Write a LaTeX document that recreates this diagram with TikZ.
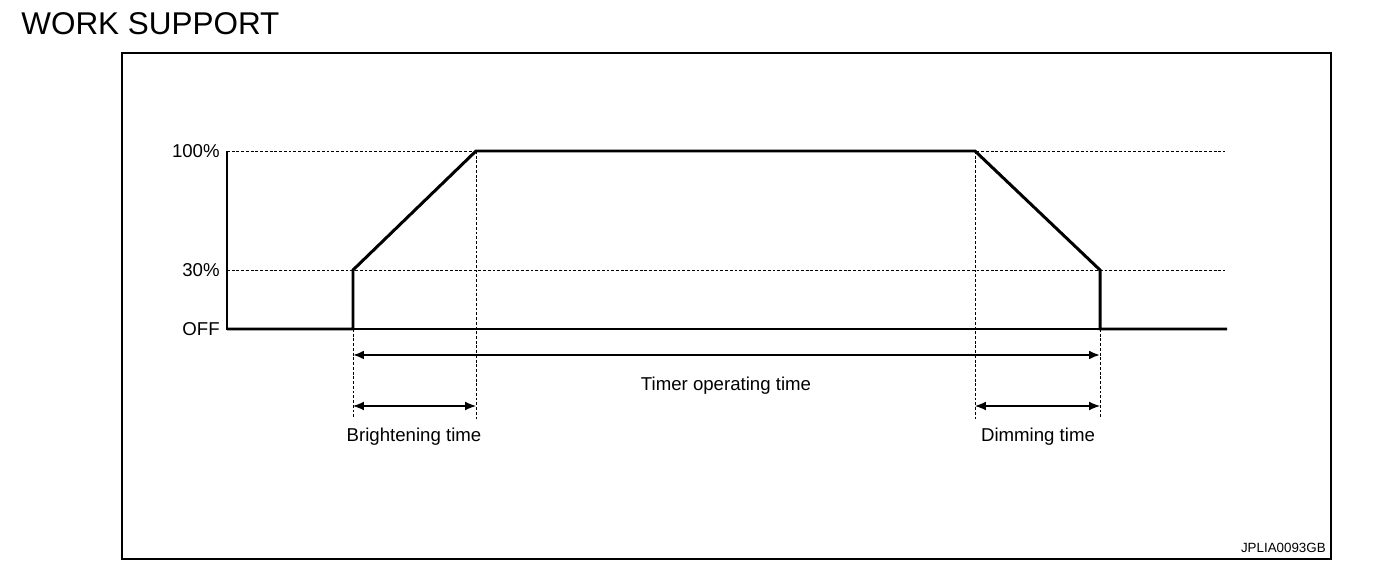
\documentclass[tikz,border=0pt]{standalone}
\usepackage{fontspec}
\setmainfont{Liberation Sans}
\usetikzlibrary{arrows.meta}
\begin{document}
\begin{tikzpicture}
        [x=0.02cm, y=-0.02cm,
        level/.style={font=\fontsize{10.6}{12}\selectfont, anchor=east, inner sep=0pt},
        lbl/.style={font=\fontsize{10.6}{12}\selectfont, inner sep=0pt},
        signal/.style={black, line width=1.7pt, line join=miter},
        guide/.style={black, line width=0.55pt, dash pattern=on 1.6pt off 1.1pt},
        axis/.style={black, line width=0.6pt},
        span/.style={black, line width=0.6pt, {Latex[length=6.2pt, width=5pt]}-{Latex[length=6.2pt, width=5pt]}},
        bigspan/.style={span, line width=1.1pt}]

        \useasboundingbox (0, 0) rectangle (1376, 570);

        \node[font=\fontsize{17.9}{20}\selectfont, anchor=base west, inner sep=0pt] (title) at (21, 35) {WORK SUPPORT};
        \draw[line width=1.2pt] (122, 53) rectangle (1331, 559);
        \node[font=\fontsize{7.6}{9}\selectfont, anchor=east, inner sep=0pt] (code) at (1326, 548) {JPLIA0093GB};

        % level labels
        \node[level] (full) at (220, 151) {100\%};
        \node[level] (low) at (220, 270) {30\%};
        \node[level] (off) at (220, 329) {OFF};

        % corners of the curve
        \coordinate (a0) at (227, 329);
        \coordinate (a1) at (353, 329);
        \coordinate (a2) at (353, 270);
        \coordinate (a3) at (476, 151);
        \coordinate (a4) at (975, 151);
        \coordinate (a5) at (1100, 270);
        \coordinate (a6) at (1100, 329);
        \coordinate (a7) at (1227, 329);
        \coordinate (top) at (227, 151);
        \coordinate (topend) at (1225, 151);
        \coordinate (midend) at (1225, 270);
        \coordinate (low0) at (227, 270);

        % feet of the guides
        \coordinate (f1) at (353, 419);
        \coordinate (f3) at (476, 419);
        \coordinate (f4) at (975, 419);
        \coordinate (f6) at (1100, 419);

        % axis and guides
        \draw[axis] (top) -- (a0) -- (a7);
        \draw[guide] (top) -- (topend);
        \draw[guide] (low0) -- (midend);
        \draw[guide] (a1) -- (f1);
        \draw[guide] (a3) -- (f3);
        \draw[guide] (a4) -- (f4);
        \draw[guide] (a6) -- (f6);

        % the curve
        \draw[signal] (a0) -- (a1) -- (a2) -- (a3) -- (a4) -- (a5) -- (a6) -- (a7);

        % time spans
        \coordinate (t1) at (353, 355);
        \coordinate (t6) at (1100, 355);
        \coordinate (b1) at (353, 406);
        \coordinate (b3) at (476, 406);
        \coordinate (d4) at (975, 406);
        \coordinate (d6) at (1100, 406);
        \draw[bigspan] (t1) -- (t6);
        \draw[span] (b1) -- (b3);
        \draw[span] (d4) -- (d6);

        \node[lbl] (timer) at (726, 386) {Timer operating time};
        \node[lbl] (bright) at (414, 437) {Brightening time};
        \node[lbl] (dim) at (1038, 437) {Dimming time};

    \end{tikzpicture}
\end{document}
